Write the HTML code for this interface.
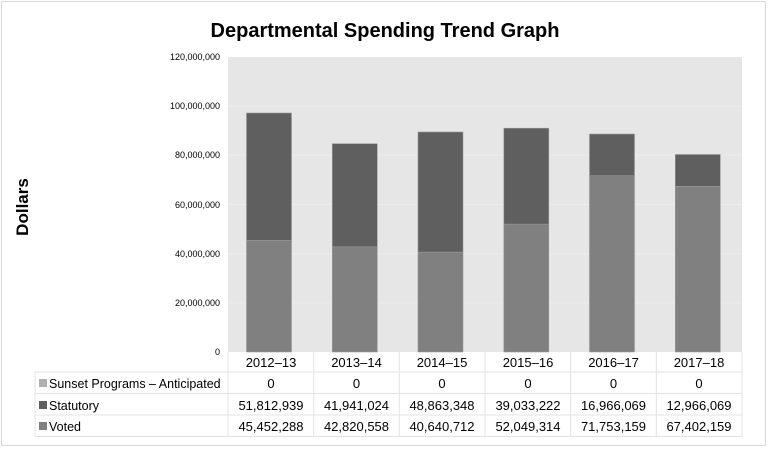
<!DOCTYPE html>
<html><head><style>
body{margin:0;background:#fff;}
svg{display:block;font-family:"Liberation Sans",Arial,sans-serif;}
</style></head><body>
<svg width="770" height="450" xmlns="http://www.w3.org/2000/svg">
<rect x="1.5" y="1.5" width="764" height="444" fill="#fff" stroke="#d9d9d9"/>
<text x="385" y="37" font-size="20" font-weight="bold" text-anchor="middle" fill="#000">Departmental Spending Trend Graph</text>
<text transform="translate(28,207) rotate(-90)" font-size="17" font-weight="bold" text-anchor="middle">Dollars</text>
<rect x="228" y="57" width="514" height="295" fill="#e6e6e6"/>
<g stroke="#ececec" stroke-width="1">
<line x1="228" x2="742" y1="106.2" y2="106.2"/><line x1="228" x2="742" y1="155.3" y2="155.3"/>
<line x1="228" x2="742" y1="204.5" y2="204.5"/><line x1="228" x2="742" y1="253.7" y2="253.7"/>
<line x1="228" x2="742" y1="302.8" y2="302.8"/>
</g>
<g font-size="9" text-anchor="end" fill="#000">
<text x="220" y="60">120,000,000</text><text x="220" y="109">100,000,000</text>
<text x="220" y="158">80,000,000</text><text x="220" y="208">60,000,000</text>
<text x="220" y="257">40,000,000</text><text x="220" y="306">20,000,000</text>
<text x="220" y="355">0</text>
</g>
<g stroke="#999" stroke-width="0.6">
<rect x="246.5" y="240.3" width="45" height="111.7" fill="#808080"/>
<rect x="246.5" y="113" width="45" height="127.3" fill="#5f5f5f"/>
<rect x="332.3" y="246.8" width="45" height="105.2" fill="#808080"/>
<rect x="332.3" y="143.7" width="45" height="103.1" fill="#5f5f5f"/>
<rect x="418" y="252.1" width="45" height="99.9" fill="#808080"/>
<rect x="418" y="132" width="45" height="120.1" fill="#5f5f5f"/>
<rect x="503.8" y="224.1" width="45" height="127.9" fill="#808080"/>
<rect x="503.8" y="128.2" width="45" height="95.9" fill="#5f5f5f"/>
<rect x="589.5" y="175.7" width="45" height="176.3" fill="#808080"/>
<rect x="589.5" y="134" width="45" height="41.7" fill="#5f5f5f"/>
<rect x="675.3" y="186.3" width="45" height="165.7" fill="#808080"/>
<rect x="675.3" y="154.5" width="45" height="31.8" fill="#5f5f5f"/>
</g>
<g stroke="#e3e3e3" stroke-width="1" fill="none">
<line x1="228" y1="352" x2="228" y2="437"/>
<line x1="313.7" y1="352" x2="313.7" y2="437"/>
<line x1="399.3" y1="352" x2="399.3" y2="437"/>
<line x1="485" y1="352" x2="485" y2="437"/>
<line x1="570.7" y1="352" x2="570.7" y2="437"/>
<line x1="656.3" y1="352" x2="656.3" y2="437"/>
<line x1="742" y1="352" x2="742" y2="437"/>
<line x1="35" y1="372" x2="742" y2="372"/>
<line x1="35" y1="393.5" x2="742" y2="393.5"/>
<line x1="35" y1="415" x2="742" y2="415"/>
<line x1="35" y1="436.5" x2="742" y2="436.5"/>
<line x1="35" y1="372" x2="35" y2="436.5"/>
</g>
<g font-size="13" text-anchor="middle" fill="#000">
<text x="271" y="367">2012–13</text><text x="356.5" y="367">2013–14</text><text x="442" y="367">2014–15</text>
<text x="528" y="367">2015–16</text><text x="613.5" y="367">2016–17</text><text x="699" y="367">2017–18</text>
<text x="271" y="388">0</text><text x="356.5" y="388">0</text><text x="442" y="388">0</text>
<text x="528" y="388">0</text><text x="613.5" y="388">0</text><text x="699" y="388">0</text>
<text x="271" y="410">51,812,939</text><text x="356.5" y="410">41,941,024</text><text x="442" y="410">48,863,348</text>
<text x="528" y="410">39,033,222</text><text x="613.5" y="410">16,966,069</text><text x="699" y="410">12,966,069</text>
<text x="271" y="431">45,452,288</text><text x="356.5" y="431">42,820,558</text><text x="442" y="431">40,640,712</text>
<text x="528" y="431">52,049,314</text><text x="613.5" y="431">71,753,159</text><text x="699" y="431">67,402,159</text>
</g>
<rect x="39" y="379" width="8" height="8" fill="#b0b0b0"/>
<rect x="39" y="401" width="8" height="8" fill="#5f5f5f"/>
<rect x="39" y="422" width="8" height="8" fill="#808080"/>
<g font-size="12.5" fill="#000">
<text x="49" y="388">Sunset Programs – Anticipated</text>
<text x="49" y="410">Statutory</text>
<text x="49" y="431">Voted</text>
</g>
</svg>
</body></html>
